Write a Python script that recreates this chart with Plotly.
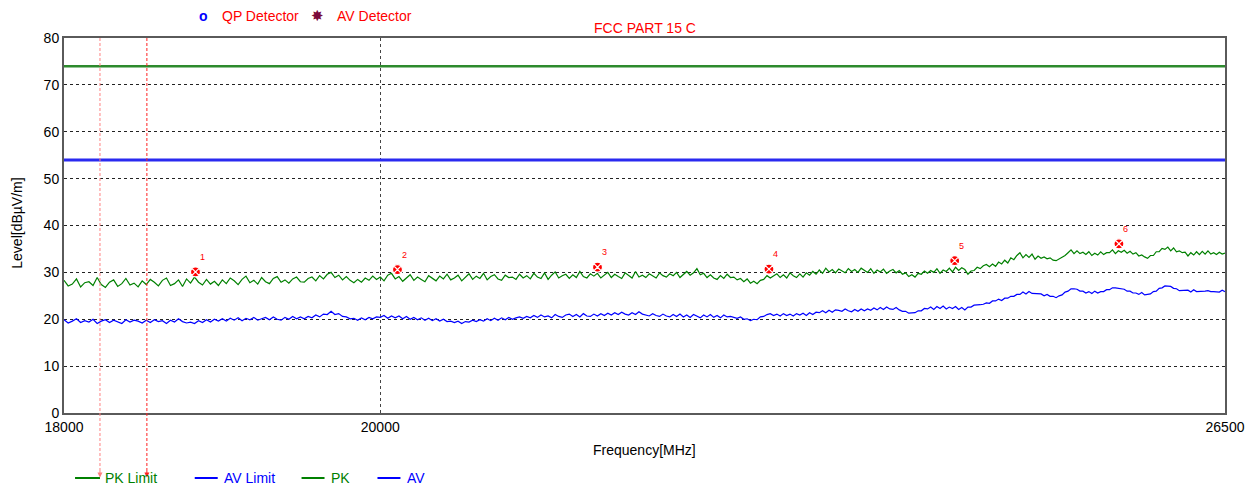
import numpy as np
import plotly.graph_objects as go

# Sweep: 18000-26500 MHz in 25 MHz steps
freq_start, freq_stop, freq_step = 18000, 26500, 25
freqs = np.arange(freq_start, freq_stop + freq_step, freq_step)

pk_level = [
    28.3, 27.1, 27.5, 28.6, 26.9, 27.8, 28.0, 27.2, 28.9, 27.4, 26.8, 27.9, 28.4, 27.0, 27.6, 28.7, 27.3, 27.7, 26.9, 28.2,
    27.4, 28.5, 27.9, 27.1, 28.3, 28.8, 27.2, 27.6, 28.4, 27.0, 28.6, 27.7, 29.0, 27.9, 27.3, 28.5, 27.5, 28.1, 27.2, 28.4,
    27.6, 28.8, 28.2, 27.4, 28.5, 29.2, 27.8, 28.3, 27.5, 28.9, 28.0, 27.6, 28.7, 29.1, 27.9, 28.4, 27.7, 28.6, 29.0, 28.0,
    27.9, 28.7, 29.0, 28.2, 29.3, 28.6, 29.6, 30.0, 28.9, 29.4, 28.4, 29.1, 28.3, 27.8, 28.5, 27.9, 28.8, 28.3, 29.2, 28.5,
    29.0, 28.2, 29.4, 29.8, 28.6, 29.1, 28.1, 28.8, 29.5, 28.3, 29.0, 28.5, 28.0, 29.3, 28.7, 28.2, 29.2, 28.6, 29.6, 28.4,
    28.8, 29.4, 28.2, 28.9, 29.7, 28.5, 29.2, 28.7, 29.8, 28.4, 29.1, 29.5, 28.6, 28.3, 29.4, 28.9, 29.0, 28.5, 29.6, 28.8,
    29.3, 28.6, 29.8, 29.0, 28.7, 29.9, 28.5, 29.4, 30.1, 28.8, 29.3, 29.6, 28.7, 29.5, 28.9, 30.2, 29.1, 28.8, 29.7, 29.2,
    29.8, 28.8, 29.4, 30.0, 28.9, 29.6, 29.1, 28.7, 29.9, 29.3, 28.8, 30.2, 29.0, 29.4, 28.9, 29.7, 29.2, 28.8, 29.9, 29.3,
    29.0, 29.7, 29.3, 30.0, 28.9, 29.6, 30.2, 29.4, 29.9, 30.8, 29.5, 29.8, 28.9, 29.5, 28.8, 28.5, 29.3, 28.7, 29.6, 28.9,
    29.0, 28.4, 28.7, 28.0, 28.6, 27.7, 28.1, 27.6, 28.3, 28.5, 29.3, 28.8, 29.2, 29.7, 28.9, 29.5, 28.8, 29.9, 29.3, 28.9,
    29.7, 29.0, 29.9, 29.4, 30.2, 29.6, 30.5, 29.8, 30.9, 30.1, 30.6, 29.9, 30.7, 30.3, 29.9, 30.8, 30.2, 30.6, 30.0, 30.9,
    30.4, 30.0, 30.8, 29.8, 30.5, 30.1, 30.7, 29.8, 30.3, 30.6, 29.9, 30.4, 29.6, 29.9, 29.1, 29.5, 29.0, 29.8, 29.6, 30.3,
    29.8, 30.4, 30.0, 30.8, 29.8, 30.5, 30.2, 30.9, 30.1, 31.1, 30.4, 31.0, 30.6, 29.6, 30.3, 30.4, 31.1, 30.8, 31.4, 31.7,
    31.2, 31.8, 31.3, 32.2, 31.8, 32.6, 32.0, 33.1, 32.7, 33.6, 34.2, 33.1, 33.8, 33.2, 33.9, 32.8, 33.5, 33.0, 33.3, 32.9,
    33.1, 32.6, 32.5, 32.9, 33.3, 33.6, 34.2, 34.8, 34.0, 34.6, 34.0, 34.3, 33.8, 34.4, 33.6, 34.1, 33.7, 34.4, 33.8, 34.2,
    34.2, 34.8, 34.0, 34.6, 34.3, 34.7, 34.1, 34.5, 33.9, 34.2, 33.5, 33.7, 33.3, 33.0, 33.6, 33.6, 34.4, 34.4, 35.1, 34.9,
    35.4, 34.6, 35.2, 34.4, 34.6, 34.2, 34.3, 33.5, 34.2, 33.7, 34.4, 33.8, 34.5, 33.9, 34.6, 33.9, 34.2, 33.8, 34.3, 33.9,
    34.1,
]

av_level = [
    19.9, 19.2, 19.6, 20.1, 19.3, 19.7, 19.4, 20.0, 19.1, 19.6, 19.9, 19.3, 19.8, 19.5, 19.1, 19.9, 19.4, 19.8, 19.6, 19.2,
    19.8, 19.3, 19.9, 19.5, 19.7, 19.1, 19.8, 19.4, 20.1, 19.5, 19.2, 19.4, 19.1, 19.7, 19.3, 19.9, 19.4, 20.0, 19.6, 20.1,
    19.6, 20.2, 19.8, 20.3, 19.7, 20.2, 19.9, 20.4, 19.8, 20.1, 20.4, 19.9, 20.5, 20.0, 19.8, 20.4, 20.0, 20.6, 20.1, 20.5,
    20.1, 20.6, 20.3, 20.9, 20.5, 21.1, 21.0, 21.7, 21.0, 21.2, 20.6, 20.5, 20.1, 20.2, 19.8, 20.3, 19.9, 20.4, 20.1, 20.5,
    20.4, 20.8, 20.2, 20.7, 20.3, 20.7, 20.1, 20.6, 20.0, 20.4, 19.9, 20.3, 19.8, 20.2, 19.7, 20.1, 19.6, 20.0, 19.5, 19.6,
    19.3, 19.6, 19.1, 19.5, 19.4, 19.8, 19.5, 19.9, 19.6, 20.1, 19.7, 20.2, 19.8, 20.3, 19.9, 20.4, 20.0, 20.3, 20.5, 20.2,
    20.6, 20.3, 20.8, 20.4, 20.9, 20.5, 20.7, 20.3, 21.0, 20.6, 20.4, 20.9, 21.1, 20.6, 21.0, 20.5, 21.2, 20.7, 20.6, 21.1,
    20.7, 21.2, 20.8, 21.3, 20.9, 21.4, 21.0, 21.5, 21.1, 20.9, 21.4, 21.0, 21.6, 21.1, 20.9, 20.7, 21.2, 20.8, 20.6, 21.1,
    20.7, 20.5, 21.0, 20.6, 21.1, 20.5, 20.9, 20.4, 21.0, 20.6, 20.3, 20.9, 20.5, 21.0, 20.4, 20.8, 20.3, 20.9, 20.5, 20.6,
    20.4, 20.2, 20.5, 20.0, 20.1, 19.7, 20.0, 19.9, 20.5, 20.6, 21.0, 21.2, 20.8, 21.1, 20.7, 21.2, 20.8, 21.1, 20.7, 21.2,
    20.9, 21.3, 20.8, 21.4, 21.0, 21.5, 21.4, 21.8, 21.4, 21.9, 21.5, 22.0, 21.9, 21.7, 22.2, 21.8, 21.6, 22.1, 21.7, 22.2,
    21.8, 22.2, 21.9, 22.4, 22.0, 22.5, 22.1, 22.6, 22.2, 22.1, 22.5, 22.0, 21.7, 21.7, 21.3, 21.4, 21.4, 21.8, 21.8, 22.3,
    22.2, 22.6, 22.1, 22.7, 22.3, 22.8, 22.2, 22.6, 22.3, 22.7, 22.1, 22.5, 22.0, 22.6, 22.6, 23.0, 23.0, 23.1, 23.2, 23.5,
    23.4, 23.9, 23.9, 24.3, 24.0, 24.5, 24.5, 24.9, 24.9, 25.3, 25.3, 25.8, 25.4, 25.9, 25.5, 25.5, 25.5, 25.4, 25.0, 25.3,
    24.9, 24.9, 24.6, 25.0, 25.2, 25.8, 26.0, 26.5, 26.5, 26.4, 26.0, 26.0, 25.6, 25.9, 25.5, 26.0, 25.6, 25.9, 25.9, 26.3,
    26.3, 26.7, 26.7, 26.6, 26.5, 26.4, 26.0, 26.0, 25.6, 25.6, 25.3, 25.7, 25.2, 25.3, 25.4, 25.9, 26.0, 26.6, 26.7, 27.1,
    27.0, 27.0, 26.6, 26.5, 26.1, 26.1, 26.2, 26.2, 25.8, 26.3, 25.9, 25.9, 26.0, 26.0, 26.1, 25.9, 25.9, 25.8, 25.8, 26.2,
    25.9,
]

# Limits (dBuV/m)
pk_limit = 74
av_limit = 54

# Peak search markers
marker_ids = ["1", "2", "3", "4", "5", "6"]
marker_freqs = [18806, 20115, 21501, 22765, 24218, 25580]
marker_levels = [30.1, 30.6, 31.1, 30.7, 32.5, 36.1]

# Red cursor lines (MHz)
cursor_freqs = [18217, 18504]
cursor_colors = ["#ff8080", "#ff2020"]

x_ticks = [18000, 20000, 26500]
y_ticks = [0, 10, 20, 30, 40, 50, 60, 70, 80]
y_min, y_max = 0, 80

FONT = "Liberation Sans, Arial, sans-serif"
GREEN = "#008000"
LIMIT_GREEN = "#2d8a2d"
BLUE = "#0000ff"
LIMIT_BLUE = "#2a2af0"
RED = "#ff0000"

fig = go.Figure()

fig.add_trace(go.Scatter(x=[freq_start, freq_stop], y=[pk_limit, pk_limit], mode="lines",
                         line=dict(color=LIMIT_GREEN, width=2.5), hoverinfo="skip"))
fig.add_trace(go.Scatter(x=[freq_start, freq_stop], y=[av_limit, av_limit], mode="lines",
                         line=dict(color=LIMIT_BLUE, width=3), hoverinfo="skip"))
fig.add_trace(go.Scatter(x=freqs, y=pk_level, mode="lines",
                         line=dict(color=GREEN, width=1.2)))
fig.add_trace(go.Scatter(x=freqs, y=av_level, mode="lines",
                         line=dict(color=BLUE, width=1.2)))

fig.add_trace(go.Scatter(x=marker_freqs, y=marker_levels, mode="markers",
                         marker=dict(symbol="circle-x", size=10, color=RED,
                                     line=dict(color="white", width=1.2))))

for mid, mf, ml in zip(marker_ids, marker_freqs, marker_levels):
    fig.add_annotation(x=np.log10(mf), y=ml, text=mid, showarrow=False,
                       xshift=7, yshift=15, font=dict(family=FONT, size=9, color=RED))

# Cursor lines running from the top of the plot down to the lower legend
y_low_paper = -0.172
for cf, cc in zip(cursor_freqs, cursor_colors):
    fig.add_shape(type="line", xref="x", yref="paper", x0=cf, x1=cf, y0=1, y1=y_low_paper,
                  line=dict(color=cc, width=1, dash="3px,2px"))
    fig.add_annotation(x=np.log10(cf), y=y_low_paper, xref="x", yref="paper", text="",
                       showarrow=True, arrowhead=2, arrowsize=1, arrowwidth=1, arrowcolor=cc,
                       ax=0, ay=-8)

fig.update_layout(
    width=1257, height=489,
    margin=dict(l=64, r=30, t=38, b=76),
    paper_bgcolor="white", plot_bgcolor="white",
    showlegend=False,
    font=dict(family=FONT, size=14, color="black"),
    xaxis=dict(type="log", range=[np.log10(freq_start), np.log10(freq_stop)],
               tickvals=x_ticks, ticktext=[str(v) for v in x_ticks],
               showline=True, linecolor="#5a5a5a", linewidth=2, mirror=True,
               showgrid=True, gridcolor="#444444", griddash="dot", gridwidth=1,
               ticks="", zeroline=False, tickfont=dict(size=14)),
    yaxis=dict(range=[y_min, y_max], tickvals=y_ticks,
               showline=True, linecolor="#5a5a5a", linewidth=2, mirror=True,
               showgrid=True, gridcolor="#222222", griddash="dot", gridwidth=1,
               ticks="", zeroline=False, tickfont=dict(size=14)),
)

# Title and axis titles
fig.add_annotation(x=0.5, y=1.027, xref="paper", yref="paper", text="FCC PART 15 C",
                   xanchor="center", yanchor="middle",
                   showarrow=False, font=dict(family=FONT, size=14, color=RED))
fig.add_annotation(x=0.5, y=-0.099, xref="paper", yref="paper", text="Frequency[MHz]",
                   xanchor="center", yanchor="middle",
                   showarrow=False, font=dict(family=FONT, size=14, color="black"))
fig.add_annotation(x=-0.0404, y=0.505, xref="paper", yref="paper", text="Level[dBµV/m]",
                   xanchor="center", yanchor="middle", textangle=-90, showarrow=False,
                   font=dict(family=FONT, size=14, color="black"))

# Detector legend above the plot
top_y = 1.059
fig.add_annotation(x=0.1204, y=top_y, xref="paper", yref="paper", text="<b>o</b>",
                   xanchor="center", yanchor="middle", showarrow=False,
                   font=dict(family=FONT, size=14, color=BLUE))
fig.add_annotation(x=0.1345, y=top_y, xref="paper", yref="paper", text="QP Detector",
                   xanchor="left", yanchor="middle", showarrow=False,
                   font=dict(family=FONT, size=14, color=RED))
fig.add_annotation(x=0.2184, y=top_y, xref="paper", yref="paper", text="✸",
                   xanchor="center", yanchor="middle", showarrow=False,
                   font=dict(family="DejaVu Sans", size=15, color="#7a0a3a"))
fig.add_annotation(x=0.2330, y=top_y, xref="paper", yref="paper", text="AV Detector",
                   xanchor="left", yanchor="middle", showarrow=False,
                   font=dict(family=FONT, size=14, color=RED))

# Trace legend below the plot
bot_y = -0.1733
legend_items = [
    ("PK Limit", GREEN, 0.0095, 0.0310, 0.0336),
    ("AV Limit", BLUE, 0.1126, 0.1324, 0.1359),
    ("PK", GREEN, 0.2046, 0.2244, 0.2279),
    ("AV", BLUE, 0.2700, 0.2898, 0.2933),
]
for name, col, x0, x1, xt in legend_items:
    fig.add_shape(type="line", xref="paper", yref="paper", x0=x0, x1=x1, y0=bot_y, y1=bot_y,
                  line=dict(color=col, width=2))
    fig.add_annotation(x=xt, y=bot_y, xref="paper", yref="paper", text=name,
                       xanchor="left", yanchor="middle", showarrow=False,
                       font=dict(family=FONT, size=14, color=col))

fig.write_html("out.html")
